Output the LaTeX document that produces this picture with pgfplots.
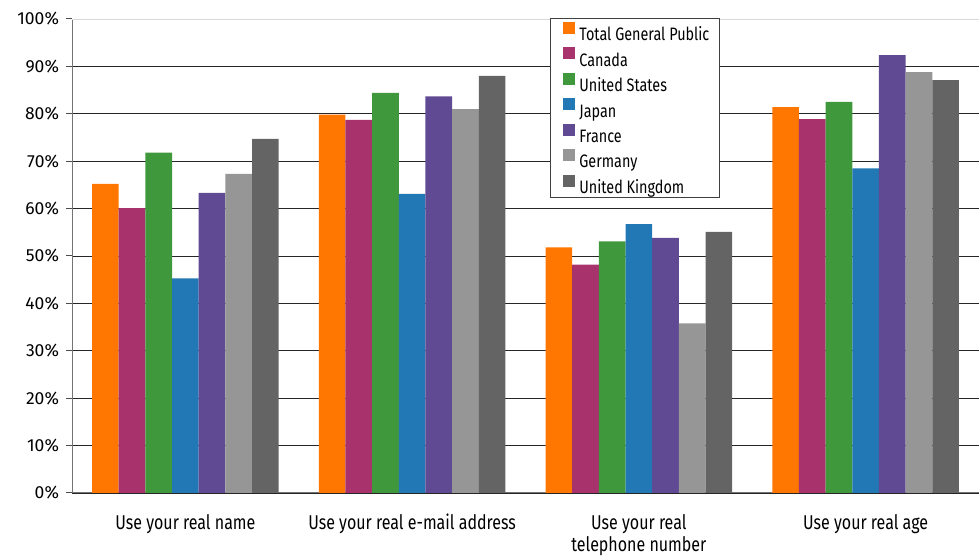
\documentclass[border=0pt]{standalone}
\usepackage{fontspec}
\setmainfont{Fira Sans}[FakeStretch=0.8]
\newfontfamily\tickfont{Fira Sans}
\usepackage{pgfplots}
\pgfplotsset{compat=1.18}
\definecolor{cTot}{RGB}{255,119,0}
\definecolor{cCan}{RGB}{168,50,108}
\definecolor{cUS}{RGB}{64,152,60}
\definecolor{cJap}{RGB}{34,120,180}
\definecolor{cFra}{RGB}{96,74,148}
\definecolor{cGer}{RGB}{150,150,150}
\definecolor{cUK}{RGB}{100,100,100}
\begin{document}
\begin{tikzpicture}[x=1pt,y=1pt]
\useasboundingbox (0,0) rectangle (979,556);
\begin{axis}[
  at={(72pt,63pt)}, anchor=south west,
  scale only axis, width=907pt, height=474pt,
  xmin=-0.5, xmax=3.5, ymin=0, ymax=100,
  ybar=0pt, bar width=0.1176,
  axis x line*=bottom, axis y line*=left,
  axis line style={-, black!55, line width=1pt},
  xtick={0,1,2,3},
  xticklabels={Use your real name, Use your real e-mail address, {Use your real\\telephone number}, Use your real age},
  xtick style={draw=none},
  minor xtick={-0.5,0.5,1.5,2.5,3.5},
  minor x tick style={black!60, line width=1pt},
  minor tick length=6pt,
  major tick length=6pt,
  tick align=outside,
  ytick={0,10,...,90},
  yticklabels={0\%,10\%,20\%,30\%,40\%,50\%,60\%,70\%,80\%,90\%},
  extra y ticks={100},
  extra y tick labels={100\%},
  extra y tick style={grid style={black!15, line width=0.8pt}},
  ytick style={black!70, line width=1pt},
  ymajorgrids,
  grid style={black!85, line width=0.8pt},
  yticklabel style={font=\tickfont\fontsize{17.5}{20}\selectfont, xshift=-3.5pt},
  xticklabel style={font=\fontsize{20}{22}\selectfont, align=center, anchor=north,
    inner sep=0pt, yshift=-15pt},
  legend image code/.code={\path (0pt,0pt); \fill[#1] (3pt,0.5pt) rectangle (15pt,12.5pt);},
  legend cell align=left,
  legend style={at={(0.527,1.003)}, anchor=north west, draw=black!75, line width=0.8pt,
    font=\fontsize{18}{20}\selectfont, inner xsep=10pt, inner ysep=4pt, row sep=6.7pt,
    nodes={inner sep=0pt, text height=12.5pt, text depth=0pt},
    /tikz/every odd column/.append style={column sep=4pt}},
  clip=false,
]
\addplot[fill=cTot, draw=none] coordinates {(0,65.2) (1,79.8) (2,51.8) (3,81.4)};
\addplot[fill=cCan, draw=none] coordinates {(0,60.1) (1,78.7) (2,48.2) (3,78.9)};
\addplot[fill=cUS, draw=none] coordinates {(0,71.8) (1,84.4) (2,53.1) (3,82.5)};
\addplot[fill=cJap, draw=none] coordinates {(0,45.3) (1,63.1) (2,56.7) (3,68.5)};
\addplot[fill=cFra, draw=none] coordinates {(0,63.3) (1,83.7) (2,53.8) (3,92.4)};
\addplot[fill=cGer, draw=none] coordinates {(0,67.3) (1,81.0) (2,35.8) (3,88.8)};
\addplot[fill=cUK, draw=none] coordinates {(0,74.7) (1,88.0) (2,55.1) (3,87.1)};
\legend{Total General Public, Canada, United States, Japan, France, Germany, United Kingdom}
\end{axis}
\end{tikzpicture}
\end{document}
